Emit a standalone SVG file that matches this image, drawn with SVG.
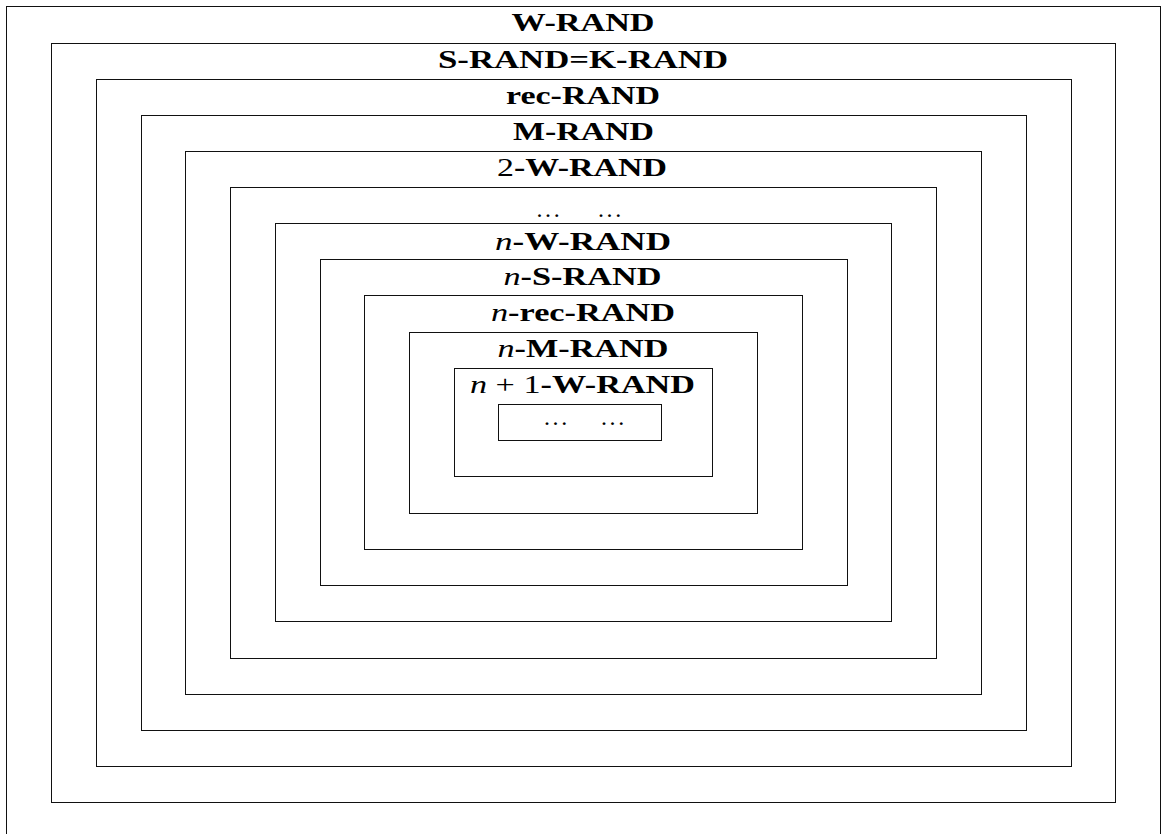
<svg xmlns="http://www.w3.org/2000/svg" width="1162" height="834" viewBox="0 0 1162 834">
<style>
.b{fill:none;stroke:#111;stroke-width:1}
.t{font-family:"Liberation Serif","Times New Roman",serif;font-weight:bold;font-size:26px;fill:#000;text-anchor:middle}
.m{font-style:italic;font-weight:normal}
.r{font-weight:normal}
.d{font-family:"Liberation Serif","Times New Roman",serif;font-size:24px;fill:#000;letter-spacing:2.6px}
</style>
<rect width="1162" height="834" fill="#fff"/>
<g id="n1"><rect class="b" x="6.5" y="6.5" width="1154" height="840"/><text class="t" x="583" y="31" textLength="143" lengthAdjust="spacingAndGlyphs">W-RAND</text></g>
<g id="n2"><rect class="b" x="51.5" y="43.5" width="1064" height="759"/><text class="t" x="583" y="67.5" textLength="290" lengthAdjust="spacingAndGlyphs">S-RAND=K-RAND</text></g>
<g id="n3"><rect class="b" x="96.5" y="79.5" width="975" height="687"/><text class="t" x="583" y="103.5" textLength="154" lengthAdjust="spacingAndGlyphs">rec-RAND</text></g>
<g id="n4"><rect class="b" x="141.5" y="115.5" width="885" height="615"/><text class="t" x="583.5" y="139.5" textLength="141" lengthAdjust="spacingAndGlyphs">M-RAND</text></g>
<g id="n5"><rect class="b" x="185.5" y="151.5" width="796" height="543"/><text class="t" x="582" y="176" textLength="170" lengthAdjust="spacingAndGlyphs"><tspan class="r">2</tspan>-W-RAND</text></g>
<g id="n6"><rect class="b" x="230.5" y="187.5" width="706" height="471"/><text class="d" x="536.5" y="217">...</text><text class="d" x="598" y="217">...</text></g>
<g id="n7"><rect class="b" x="275.5" y="223.5" width="616" height="398"/><text class="t" x="583" y="250" textLength="176" lengthAdjust="spacingAndGlyphs"><tspan class="m">n</tspan>-W-RAND</text></g>
<g id="n8"><rect class="b" x="320.5" y="259.5" width="527" height="326"/><text class="t" x="582.5" y="285" textLength="158" lengthAdjust="spacingAndGlyphs"><tspan class="m">n</tspan>-S-RAND</text></g>
<g id="n9"><rect class="b" x="364.5" y="295.5" width="438" height="254"/><text class="t" x="583" y="320.5" textLength="184" lengthAdjust="spacingAndGlyphs"><tspan class="m">n</tspan>-rec-RAND</text></g>
<g id="n10"><rect class="b" x="409.5" y="332.5" width="348" height="181"/><text class="t" x="583" y="356.5" textLength="171" lengthAdjust="spacingAndGlyphs"><tspan class="m">n</tspan>-M-RAND</text></g>
<g id="n11"><rect class="b" x="454.5" y="368.5" width="258" height="108"/><text class="t" x="582.5" y="393" textLength="225" lengthAdjust="spacingAndGlyphs"><tspan class="m">n</tspan><tspan class="r"> + 1</tspan>-W-RAND</text></g>
<g id="n12"><rect class="b" x="498.5" y="404.5" width="163" height="36"/><text class="d" x="544" y="424.5">...</text><text class="d" x="601" y="424.5">...</text></g>
<g id="connectors"/>
</svg>
